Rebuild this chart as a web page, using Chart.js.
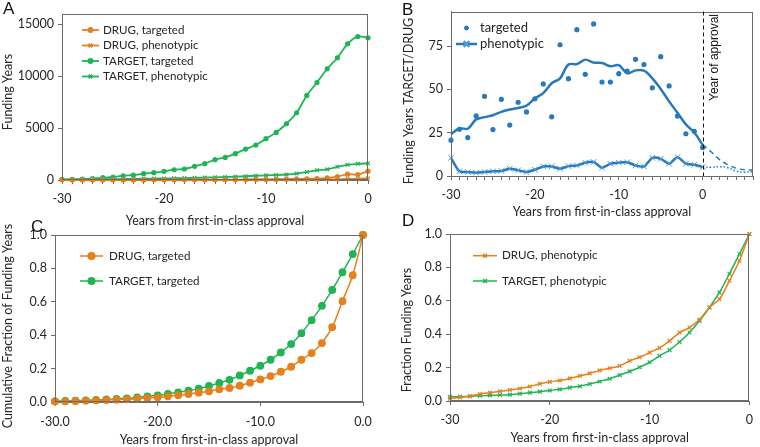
<!DOCTYPE html>
<html><head><meta charset="utf-8">
<script src="https://cdn.jsdelivr.net/npm/chart.js@4/dist/chart.umd.min.js"></script>
<style>
html,body{margin:0;padding:0;background:#fff}
body{width:760px;height:447px;position:relative;overflow:hidden}
canvas{position:absolute}
.pl{position:absolute;font-family:'Liberation Sans',Arial,sans-serif;font-size:17px;line-height:17px;color:#111}
</style></head><body>
<canvas id="cA" width="380" height="229" style="left:0;top:0"></canvas>
<canvas id="cB" width="380" height="225" style="left:380px;top:0"></canvas>
<canvas id="cC" width="380" height="227" style="left:0;top:220px"></canvas>
<canvas id="cD" width="380" height="227" style="left:380px;top:220px"></canvas>
<div class="pl" style="left:3px;top:0px">A</div>
<div class="pl" style="left:402px;top:1px">B</div>
<div class="pl" style="left:31px;top:218px">C</div>
<div class="pl" style="left:402px;top:212px">D</div>
<script>
// ---------- data ----------
const years = [-30,-29,-28,-27,-26,-25,-24,-23,-22,-21,-20,-19,-18,-17,-16,-15,-14,-13,-12,-11,-10,-9,-8,-7,-6,-5,-4,-3,-2,-1,0];
// Panel A: funding years
const drugTargetedA  = [15,10,8,8,8,8,8,8,12,14,14,20,22,28,28,28,40,30,50,62,68,70,90,105,120,140,210,330,560,520,850];
const drugPhenoA     = [14,8,8,12,8,8,8,9,12,16,12,8,12,15,15,18,13,14,30,22,28,28,42,50,30,48,72,50,110,120,160];
const targetTargetedA= [60,65,95,125,220,290,410,480,610,710,840,990,1060,1320,1570,1960,2180,2540,2980,3370,3980,4590,5420,6480,8150,9400,10720,11780,13130,13830,13700];
const targetPhenoA   = [40,45,50,60,70,80,95,110,120,135,150,170,185,205,230,260,290,320,360,410,450,480,530,620,780,950,1030,1270,1460,1560,1600];
// Panel B: ratio TARGET/DRUG
const ratioTargeted  = [20.7,27,22.2,34.7,46,26.8,44.3,29.4,42.6,37,44.6,53.2,34.2,75.8,56.2,84.5,58.7,87.8,54.3,54.3,59.1,60.6,67.4,64.4,50.9,68.9,52,34.6,24.4,25.8,16.5];
const ratioTrend     = [24.1,27.5,27.3,32.7,34,35.1,37,38.4,39.3,40.6,44.8,47.9,53.6,56.4,64.4,64.6,67.2,65.5,65.3,63.4,64,59.3,61,60.8,56.4,50.3,43.1,36.5,29.8,25.1,18];
const ratioPheno     = [10.5,2.7,2.3,1.9,2.3,2.7,2.9,4.2,3.3,2.3,3.6,5.5,5.5,4.2,5.7,6.1,7.7,8.1,4.8,7.1,7.7,7.9,6.1,5.5,10.5,9.9,7.1,10.9,7.1,6.5,5.2];
const projYears      = [0,1,2,3,4,5,6];
const projTargeted   = [18,14,9.5,6.5,4.5,3.6,3.5];
const projPheno      = [5.2,5.0,5.4,4.8,2.8,2.2,2.6];
// Panel C: cumulative fraction, targeted
const cumDrugTargeted   = [0.004,0.004,0.006,0.008,0.010,0.012,0.014,0.016,0.020,0.024,0.028,0.034,0.040,0.048,0.056,0.064,0.076,0.084,0.098,0.116,0.135,0.155,0.181,0.211,0.253,0.293,0.353,0.448,0.604,0.759,1.0];
const cumTargetTargeted = [0.004,0.006,0.008,0.010,0.012,0.016,0.018,0.022,0.028,0.034,0.040,0.048,0.058,0.068,0.080,0.096,0.114,0.133,0.159,0.187,0.217,0.253,0.297,0.347,0.412,0.490,0.576,0.671,0.777,0.886,1.0];
// Panel D: fraction, phenotypic
const cumDrugPheno   = [0.014,0.022,0.030,0.042,0.050,0.058,0.066,0.075,0.087,0.103,0.115,0.123,0.135,0.150,0.165,0.183,0.196,0.210,0.240,0.262,0.290,0.318,0.360,0.410,0.440,0.488,0.560,0.610,0.720,0.840,1.0];
const cumTargetPheno = [0.025,0.026,0.028,0.032,0.034,0.036,0.038,0.044,0.050,0.056,0.063,0.070,0.080,0.088,0.102,0.117,0.133,0.155,0.177,0.202,0.232,0.270,0.305,0.353,0.410,0.480,0.560,0.650,0.762,0.880,1.0];
// tick labels
const xMajor = [-30,-20,-10,0];
const xLabelsAB = ['-30','-20','-10','0'];
const xLabelsC  = ['-30.0','-20.0','-10.0','0.0'];
const xLabelsD  = ['-30','-20','-10','0'];
const yTicksA = [0,5000,10000,15000];
const yTicksB = [0,25,50,75];
const yTicksCD = [0,0.2,0.4,0.6,0.8,1.0];
const yLabelsCD = ['0.0','0.2','0.4','0.6','0.8','1.0'];
const xTitle = 'Years from first-in-class approval';

// ---------- style ----------
const ORANGE='#E5801C', GREEN='#1FB454', BLUE='#2878BE', BLUE2='#4C9CDA', AX='#6b6b6b', TXT='#262626';
const FONT="Lato, 'Open Sans', sans-serif";
Chart.defaults.font.family = FONT;
Chart.defaults.font.size = 12.5;
Chart.defaults.color = TXT;

const pts = (xs, ys) => xs.map((x,i)=>({x, y: ys[i]}));
function ds(label, xs, ys, color, style, r, bw, extra){
  return Object.assign({label, data: pts(xs, ys), borderColor: color, backgroundColor: color,
    pointStyle: style, pointRadius: r, pointBorderWidth: 1.2, borderWidth: bw, tension: 0.3,
    fill:false, clip:false}, extra||{});
}

const frameLegend = {
  id:'frameLegend',
  afterDatasetsDraw(chart, args, o){
    const {ctx, chartArea:a} = chart;
    ctx.save();
    ctx.strokeStyle = AX; ctx.lineWidth = 1; ctx.setLineDash([]);
    ctx.strokeRect(Math.round(a.left)+0.5, Math.round(a.top)+0.5, Math.round(a.right-a.left)-1, Math.round(a.bottom-a.top)-1);
    if (o.vline !== undefined){
      const x = Math.round(chart.scales.x.getPixelForValue(o.vline))+0.5;
      ctx.strokeStyle='#111'; ctx.setLineDash([4,3]);
      ctx.beginPath(); ctx.moveTo(x, a.top); ctx.lineTo(x, a.bottom); ctx.stroke();
      ctx.setLineDash([]);
      ctx.save(); ctx.translate(x+11, a.top+46); ctx.rotate(-Math.PI/2);
      ctx.fillStyle='#111'; ctx.font="12px 'Liberation Sans', Arial, sans-serif";
      ctx.textAlign='center'; ctx.textBaseline='middle'; ctx.fillText(o.vtext, 0, 0);
      ctx.restore();
    }
    if (o.ytitle){
      ctx.save(); ctx.translate(o.ytitle.x, o.ytitle.y); ctx.rotate(-Math.PI/2);
      ctx.fillStyle=TXT; ctx.font=o.ytitle.font; ctx.textAlign='center'; ctx.textBaseline='middle';
      ctx.fillText(o.ytitle.text, 0, 0); ctx.restore();
    }
    (o.items||[]).forEach(it=>{
      if (it.line){ ctx.strokeStyle=it.color; ctx.lineWidth=it.lw; ctx.beginPath(); ctx.moveTo(it.x, it.y); ctx.lineTo(it.x+o.len, it.y); ctx.stroke(); }
      if (it.point){ ctx.fillStyle=it.pcolor||it.color; ctx.strokeStyle=it.pcolor||it.color;
        Chart.helpers.drawPoint(ctx, {pointStyle: it.point, radius: it.r, borderWidth: 1.2, rotation:0}, it.x+o.len/2, it.y); }
      ctx.fillStyle=TXT; ctx.font=o.font; ctx.textAlign='left'; ctx.textBaseline='middle';
      ctx.fillText(it.text, it.x+o.len+o.gap, it.y);
    });
    ctx.restore();
  }
};

function xAxis(min, max, step, labels, h, tickPad, titlePad){
  return { type:'linear', min, max, afterFit(s){ s.height = h; },
    ticks:{ stepSize: step, autoSkip:false, maxRotation:0, padding: tickPad, includeBounds:false,
      callback: v => { const i = xMajor.indexOf(v); return i<0 ? '' : labels[i]; } },
    grid:{ drawOnChartArea:false, tickLength:4, color:AX }, border:{ color:AX },
    title:{ display:true, text:xTitle, padding:{top:0,bottom:titlePad}, font:{size:12.5} } };
}
function yAxis(min, max, vals, labels, w){
  return { min, max, afterFit(s){ s.width = w; },
    afterBuildTicks(s){ s.ticks = vals.map(v=>({value:v})); },
    ticks:{ padding: 4, callback: v => { const i = vals.indexOf(v); return i<0 ? '' : labels[i]; } },
    grid:{ drawOnChartArea:false, tickLength:4, color:AX }, border:{ color:AX },
    title:{ display:false } };
}
const base = (pad, fl) => ({ responsive:false, animation:false, events:[],
  layout:{ padding: pad },
  plugins:{ legend:{display:false}, tooltip:{enabled:false}, frameLegend: fl } });
const TFONT = "12.5px "+FONT;

// ---------- A ----------
new Chart(document.getElementById('cA'), {
  type:'line', plugins:[frameLegend],
  data:{ datasets:[
    ds('DRUG, targeted', years, drugTargetedA, ORANGE, 'circle', 2, 1.8),
    ds('DRUG, phenotypic', years, drugPhenoA, ORANGE, 'crossRot', 2.6, 1.8),
    ds('TARGET, targeted', years, targetTargetedA, GREEN, 'circle', 2, 1.8),
    ds('TARGET, phenotypic', years, targetPhenoA, GREEN, 'crossRot', 2.6, 1.8)
  ]},
  options: Object.assign(base({top:14,right:12,left:0,bottom:0}, {
      len:17, gap:4, font:"11.6px "+FONT,
      ytitle:{text:'Funding Years', x:8, y:92, font:TFONT},
      items:[
        {x:82,y:30,text:'DRUG, targeted',color:ORANGE,line:true,lw:1.8,point:'circle',r:2},
        {x:82,y:45.5,text:'DRUG, phenotypic',color:ORANGE,line:true,lw:1.8,point:'crossRot',r:2.6},
        {x:82,y:61,text:'TARGET, targeted',color:GREEN,line:true,lw:1.8,point:'circle',r:2},
        {x:82,y:76.5,text:'TARGET, phenotypic',color:GREEN,line:true,lw:1.8,point:'crossRot',r:2.6}
      ]}), {
    scales:{
      x: xAxis(-30, 0, 1, xLabelsAB, 49, 7, 1),
      y: yAxis(0, 16000, yTicksA, yTicksA.map(String), 62)
    }})
});

// ---------- B ----------
new Chart(document.getElementById('cB'), {
  type:'line', plugins:[frameLegend],
  data:{ datasets:[
    ds('targeted', years, ratioTargeted, BLUE, 'circle', 2, 0, {showLine:false}),
    ds('phenotypic', years, ratioPheno, BLUE, 'crossRot', 4, 2.5, {pointBorderColor:BLUE2, pointBackgroundColor:BLUE2, pointBorderWidth:1, tension:0.25}),
    ds('trend', years, ratioTrend, BLUE, 'circle', 0, 2.5, {tension:0.35}),
    ds('proj targeted', projYears, projTargeted, BLUE, 'circle', 0, 1.5, {borderDash:[5,4], tension:0.4}),
    ds('proj phenotypic', projYears, projPheno, BLUE, 'circle', 0, 1.5, {borderDash:[1.5,2], tension:0.4})
  ]},
  options: Object.assign(base({top:9,right:5,left:0,bottom:0}, {
      len:21, gap:3, font:"13px "+FONT, vline:0, vtext:'Year of approval',
      ytitle:{text:'Funding Years TARGET/DRUG', x:29, y:101, font:TFONT},
      items:[
        {x:76,y:28,text:'targeted',color:BLUE,line:false,point:'circle',r:2},
        {x:76,y:44,text:'phenotypic',color:BLUE,line:true,lw:2.5,point:'crossRot',r:4,pcolor:BLUE2}
      ]}), {
    scales:{
      x: xAxis(-30, 6, 1, xLabelsAB, 49, 7, 6),
      y: yAxis(0, 95, yTicksB, yTicksB.map(String), 71)
    }})
});

// ---------- C ----------
new Chart(document.getElementById('cC'), {
  type:'line', plugins:[frameLegend],
  data:{ datasets:[
    ds('DRUG, targeted', years, cumDrugTargeted, ORANGE, 'circle', 3.3, 1.5),
    ds('TARGET, targeted', years, cumTargetTargeted, GREEN, 'circle', 3.3, 1.5)
  ]},
  options: Object.assign(base({top:15,right:17,left:0,bottom:0}, {
      len:23, gap:6, font:"11.6px "+FONT,
      ytitle:{text:'Cumulative Fraction of Funding Years', x:8, y:106, font:TFONT},
      items:[
        {x:80,y:36,text:'DRUG, targeted',color:ORANGE,line:true,lw:1.5,point:'circle',r:3.3},
        {x:80,y:61,text:'TARGET, targeted',color:GREEN,line:true,lw:1.5,point:'circle',r:3.3}
      ]}), {
    scales:{
      x: xAxis(-30, 0, 10, xLabelsC, 45, 8, 0),
      y: yAxis(0, 1, yTicksCD, yLabelsCD, 55)
    }})
});

// ---------- D ----------
new Chart(document.getElementById('cD'), {
  type:'line', plugins:[frameLegend],
  data:{ datasets:[
    ds('DRUG, phenotypic', years, cumDrugPheno, ORANGE, 'crossRot', 2.7, 1.5),
    ds('TARGET, phenotypic', years, cumTargetPheno, GREEN, 'crossRot', 2.7, 1.5)
  ]},
  options: Object.assign(base({top:14,right:4,left:0,bottom:0}, {
      len:24, gap:5, font:"11.6px "+FONT,
      ytitle:{text:'Fraction Funding Years', x:27, y:110, font:TFONT},
      items:[
        {x:93,y:35.7,text:'DRUG, phenotypic',color:ORANGE,line:true,lw:1.5,point:'crossRot',r:2.7},
        {x:93,y:61,text:'TARGET, phenotypic',color:GREEN,line:true,lw:1.5,point:'crossRot',r:2.7}
      ]}), {
    scales:{
      x: xAxis(-30, 0, 10, xLabelsD, 46, 7, 2),
      y: yAxis(0, 1, yTicksCD, yLabelsCD, 70)
    }})
});
</script>
</body></html>
